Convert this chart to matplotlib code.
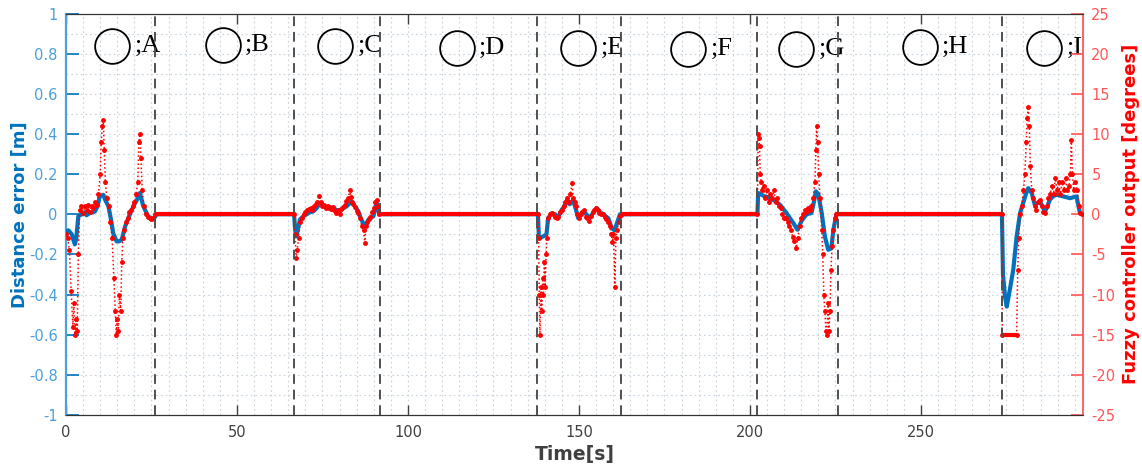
import matplotlib
matplotlib.use("Agg")
import matplotlib.pyplot as plt
from matplotlib.ticker import MultipleLocator

# ---------------- data ----------------
# distance error [m] (blue)
blue_t = [0, 0.7, 1.2, 1.7, 2.2, 2.6, 3.0, 3.6, 4.6, 5.5, 6, 7, 8, 8.5, 9.2, 9.9, 10.9, 11.5, 12.4, 13.2,
          13.8, 14.8, 15.5, 16.3, 17.3, 18.2, 19.2, 20.2, 21.0, 21.6, 22.6, 24.0, 25.5, 26.5,
          66.7, 67.0, 67.4, 68.4, 69.4, 70.4, 71.3, 72.3, 73.3, 74.3, 75.2, 76.2, 77.2, 78.2, 79.2, 80.1,
          81.1, 82.1, 83.5, 84.5, 85.5, 86.2, 86.9, 87.6, 88.4, 89.9, 90.8, 91.6,
          138.0, 138.3, 139.6, 140.5, 141.0, 142, 143, 143.8, 144.9, 145.7, 146.4, 147.3, 148.3, 149.0,
          149.8, 150.5, 151.3, 152.2, 153.2, 154.2, 155.2, 156.2, 157.1, 158.6, 159.6, 160.4, 161.0, 162, 162.6,
          202.2, 202.4, 203.4, 204.2, 205, 206.8, 207.8, 208.8, 209.8, 210.7, 211.7, 212.7, 213.9, 215.2,
          216.6, 218.0, 218.7, 219.3, 220.0, 221.0, 221.9, 222.9, 223.8, 224.4, 225.3, 225.7,
          273.7, 274.0, 274.6, 275.1, 276.0, 277.0, 278.0, 279.0, 279.9, 280.7, 281.4, 282.4, 283.3,
          284.8, 286.3, 287.0, 287.7, 288.7, 289.7, 291.6, 293.6, 295.5, 296.5, 297.5]
blue_v = [-0.086, -0.08, -0.09, -0.10, -0.13, -0.15, -0.12, -0.01, 0.0, 0.01, -0.005, 0.007, 0.01, 0.015,
          0.04, 0.09, 0.097, 0.07, 0.04, -0.03, -0.094, -0.135, -0.135, -0.127, -0.06, -0.02, 0.02, 0.056,
          0.08, 0.106, 0.04, -0.01, -0.027, 0.0,
          0.0, -0.077, -0.11, -0.027, -0.01, 0.0, 0.01, 0.014, 0.03, 0.057, 0.04, 0.03, 0.035, 0.03, 0.02,
          0.014, 0.03, 0.04, 0.064, 0.04, 0.014, -0.02, -0.044, -0.06, -0.027, -0.01, 0.06, 0.0,
          0.0, -0.12, -0.11, -0.10, -0.02, 0.005, 0.0, -0.02, 0.02, 0.04, 0.064, 0.05, 0.07, 0.03,
          -0.02, 0.0, 0.014, 0.0, -0.02, 0.01, 0.03, 0.01, 0.0, -0.02, -0.07, -0.08, -0.05, 0.0, 0.0,
          0.0, 0.106, 0.097, 0.09, 0.085, 0.072, 0.06, 0.047, 0.025, 0.006, -0.02, -0.044, -0.077, -0.03,
          0.0, 0.006, 0.06, 0.114, 0.10, 0.006, -0.11, -0.177, -0.17, -0.077, 0.0, 0.0,
          0.0, -0.30, -0.41, -0.46, -0.376, -0.277, -0.11, 0.006, 0.056, 0.10, 0.13, 0.106, 0.047,
          0.064, 0.014, 0.04, 0.072, 0.09, 0.097, 0.089, 0.08, 0.089, 0.006, 0.0]

# fuzzy controller output [degrees] (red)
red_t = [0, 0.5, 1.0, 1.5, 2.0, 2.3, 2.6, 3.0, 3.3, 3.6, 4.0, 4.5, 5, 5.5, 6, 6.5, 7, 7.5, 8, 8.5, 9, 9.5,
         10, 10.3, 10.6, 10.9, 11.2, 11.5, 12, 12.5, 13, 13.5, 14, 14.4, 14.7, 15.0, 15.3, 15.6, 16, 16.3,
         16.6, 17, 17.5, 18, 18.5, 19, 19.5, 20, 20.5, 21, 21.3, 21.6, 21.9, 22.3, 22.8, 23.3, 24, 24.5,
         25, 25.5, 26,
         66.7, 67.0, 67.3, 67.6, 68.0, 68.4, 69, 69.5, 70, 70.5, 71, 71.5, 72, 72.5, 73, 73.5, 74, 74.5,
         75, 75.5, 76, 76.5, 77, 77.5, 78, 78.5, 79, 79.5, 80, 80.5, 81, 81.5, 82, 82.5, 83, 83.3, 83.7,
         84, 84.5, 85, 85.5, 86, 86.5, 87, 87.4, 87.7, 88, 88.5, 89, 89.5, 90, 90.5, 90.8, 91.2, 91.6,
         138.0, 138.2, 138.4, 138.6, 138.9, 139.1, 139.4, 139.6, 139.9, 140.1, 140.4, 140.6, 141, 141.5,
         142, 142.5, 143, 143.5, 144, 144.5, 145, 145.5, 146, 146.5, 147, 147.5, 148, 148.3, 148.7, 149,
         149.5, 150, 150.5, 151, 151.5, 152, 152.5, 153, 153.5, 154, 154.5, 155, 155.5, 156, 156.5, 157,
         157.5, 158, 158.5, 159, 159.5, 159.8, 160.1, 160.5, 160.8, 161.2, 161.6, 162, 162.6,
         202.2, 202.4, 202.6, 202.8, 203.0, 203.3, 203.6, 204, 204.5, 205, 205.5, 206, 206.5, 207, 207.5,
         208, 208.5, 209, 209.5, 210, 210.5, 211, 211.5, 212, 212.5, 213, 213.5, 214, 214.5, 215, 215.5,
         216, 216.5, 217, 217.5, 218, 218.5, 219, 219.3, 219.5, 219.8, 220.1, 220.5, 221, 221.3, 221.6,
         221.9, 222.2, 222.5, 222.8, 223.1, 223.4, 223.7, 224.0, 224.4, 224.8, 225.3,
         273.7, 273.8, 278.0, 278.3, 278.6, 279, 279.5, 280, 280.4, 280.8, 281.1, 281.4, 281.7, 282, 282.4,
         282.8, 283.3, 283.8, 284.3, 284.8, 285.3, 285.8, 286.3, 286.8, 287.3, 287.8, 288.3, 288.8, 289.3,
         289.8, 290.3, 290.8, 291.3, 291.8, 292.3, 292.8, 293.3, 293.7, 294.0, 294.3, 294.7, 295.2,
         295.7, 296.2, 296.6, 297]
red_v = [-2.5, -3, -4.5, -9.5, -14, -11, -15, -13, -14.5, -5, 0.5, 1, 0.2, 1, 0.5, 1.2, 0.3, 1, 0.8, 1.5,
         1.2, 2.5, 5, 9, 11, 11.7, 8, 4, 2, 1, -1, -3, -8, -12, -15, -13, -14.5, -10, -12, -6, -3, -2, -1,
         -0.5, 0.3, 0.5, 1, 1.5, 2.5, 4, 9, 10, 7, 3, 1, 0, -0.3, -0.5, -0.6, -0.5, 0,
         0, -2.5, -5.5, -4.5, -3, -1, -0.5, 0, 0.3, 0.5, 0.6, 0.8, 0.5, 1, 1.3, 1.5, 2.3, 1.5, 1, 1.2,
         0.8, 1, 0.8, 0.6, 0.9, 0.5, 0.2, 0.5, 0, 0.6, 0.9, 1.2, 1.6, 2, 3, 2.2, 1.5, 1.3, 0.9, 0.4, 0.2,
         -0.5, -1.5, -2, -3.6, -1.5, -1, -0.6, -0.3, 0.3, 0.8, 1.5, 1.8, 1, 0,
         0, -3, -10, -15, -9, -12, -8, -10, -6, -9, -5, -3, -0.5, 0, 0.2, 0, -0.3, -0.5, -0.3, 0.3, 0.5,
         1, 1.5, 2, 1.5, 2.5, 3.9, 2, 1.5, 1, 0, -0.5, 0, 0.3, 0.5, -0.3, -0.5, -0.8, -0.2, 0.3, 0.5, 0.8,
         0.5, 0.2, 0, 0, -0.3, -0.6, -1, -1.5, -2.5, -3.5, -2.5, -9, -3, -2, -1, -0.2, 0,
         0, 10, 9.5, 8.5, 5, 4, 3, 3.5, 2, 3, 1.5, 2.5, 2, 3, 1.5, 2, 1, 0.8, 0, -0.5, -0.5, -1, -1.5,
         -2, -2.8, -3.3, -4.2, -3, -1.5, -0.5, 0, 0.5, 0.3, 0.8, 0.5, 1, 2, 4, 8, 11, 9, 5, 2, -2, -5,
         -10, -12, -14.5, -15, -11, -14.5, -12, -7, -4, -2, -0.5, 0,
         0, -15, -15, -7, -3, 0, 1, 3, 5, 9, 12, 13.4, 11, 6, 3, 2, 1, 0.5, 1.5, 1.8, 1, 0.3, 0.2, 1, 2,
         2.5, 3.5, 2.5, 4.5, 3, 4, 2.5, 4, 3, 4.5, 3, 3.5, 5, 9.3, 5, 3, 4, 3, 1, 0.2, 0]

# red idle / saturated intervals: (start, end, value in degrees)
flat_start = [26.0, 91.6, 162.6, 225.3, 273.8]
flat_end = [66.7, 138.0, 202.2, 273.7, 278.0]
flat_value = [0, 0, 0, 0, -15]

# segment boundaries
boundaries = [26.0, 66.8, 91.8, 137.8, 162.3, 202.2, 225.8, 273.7]

# phase labels
phase_labels = ["A", "B", "C", "D", "E", "F", "G", "H", "I"]
phase_x = [13.45, 45.8, 78.65, 114.2, 149.8, 181.9, 213.6, 249.7, 286.0]
phase_y = [0.84, 0.845, 0.838, 0.83, 0.83, 0.825, 0.825, 0.835, 0.83]

left_ticks = [-1, -0.8, -0.6, -0.4, -0.2, 0, 0.2, 0.4, 0.6, 0.8, 1]
left_ticklabels = ["-1", "-0.8", "-0.6", "-0.4", "-0.2", "0", "0.2", "0.4", "0.6", "0.8", "1"]
right_ticks = [-25, -20, -15, -10, -5, 0, 5, 10, 15, 20, 25]
right_ticklabels = ["-25", "-20", "-15", "-10", "-5", "0", "5", "10", "15", "20", "25"]
x_ticks = [0, 50, 100, 150, 200, 250]

# ---------------- figure ----------------
W, H = 1142, 467
fig = plt.figure(figsize=(W / 100, H / 100), dpi=100)
ax = fig.add_axes([66 / W, 1 - 415 / H, (1083 - 66) / W, (415 - 13.5) / H])
ax2 = ax.twinx()

blue = "#0072BD"
blue_light = "#4DA0DA"
red = "#FF0000"
red_light = "#FF5555"
dark = "#404040"

ax.set_xlim(0, 297.4)
ax.set_ylim(-1, 1)
ax2.set_ylim(-25, 25)

# grid
ax.xaxis.set_minor_locator(MultipleLocator(5))
ax.yaxis.set_minor_locator(MultipleLocator(0.1))
ax.grid(True, which="both", linestyle=(0, (1.5, 2.5)), color="#CBD5DF", linewidth=0.85)
ax.set_axisbelow(True)

# blue line
ax.plot(blue_t, blue_v, color=blue, linewidth=3.0, zorder=3)

# red series
ax2.plot(red_t, red_v, color=red, linestyle=":", linewidth=1.1, marker=".", markersize=5, zorder=3)
ax2.hlines(flat_value, flat_start, flat_end, colors=red, linewidth=3.0, zorder=3)

# dashed boundaries
for b in boundaries:
    ax2.axvline(b, color="#505050", linestyle=(0, (5, 3)), linewidth=1.4, zorder=4)

# ticks
ax.set_xticks(x_ticks)
ax.set_xticklabels([str(v) for v in x_ticks])
ax.set_yticks(left_ticks)
ax.set_yticklabels(left_ticklabels)
ax.tick_params(axis="x", which="major", direction="in", top=True, bottom=True, length=7, width=1,
               colors=dark, labelsize=10.5, pad=7)
ax.tick_params(axis="x", which="minor", length=0)
ax.tick_params(axis="y", which="major", direction="in", left=True, right=False, length=9, width=1.2,
               color=blue, labelcolor=blue_light, labelsize=10.5, pad=6)
ax.tick_params(axis="y", which="minor", length=0)
ax2.set_yticks(right_ticks)
ax2.set_yticklabels(right_ticklabels)
ax2.tick_params(axis="y", direction="in", right=True, left=False, length=9, width=1.2,
                color=red_light, labelcolor=red_light, labelsize=10.5, pad=6)

for a in (ax, ax2):
    a.spines["top"].set_color("#333333")
    a.spines["bottom"].set_color("#333333")
ax.spines["left"].set_color(blue_light)
ax.spines["left"].set_linewidth(1.6)
ax2.spines["left"].set_visible(False)
ax.spines["right"].set_visible(False)
ax2.spines["right"].set_color(red_light)
ax2.spines["right"].set_linewidth(1.3)

ax.set_xlabel("Time[s]", fontsize=13.5, fontweight="bold", color=dark, labelpad=4)
ax.set_ylabel("Distance error [m]", fontsize=13, fontweight="bold", color=blue)
ax.yaxis.set_label_coords(-0.037, 0.5)
ax2.set_ylabel("Fuzzy controller output [degrees]", fontsize=13, fontweight="bold", color=red)
ax2.yaxis.set_label_coords(1.038, 0.5)

# phase labels: circle + ";X"
for lab, px, py in zip(phase_labels, phase_x, phase_y):
    ax.plot([px], [py], marker="o", markersize=25, markerfacecolor="none", markeredgecolor="black",
            markeredgewidth=1.3, zorder=6, clip_on=False)
    ax.annotate(";" + lab, xy=(px, py), xytext=(16, 0), textcoords="offset points",
                fontsize=19, family=["Liberation Serif", "DejaVu Serif"], color="black",
                ha="left", va="center", zorder=6, annotation_clip=False)

fig.savefig("out.png", dpi=100)
